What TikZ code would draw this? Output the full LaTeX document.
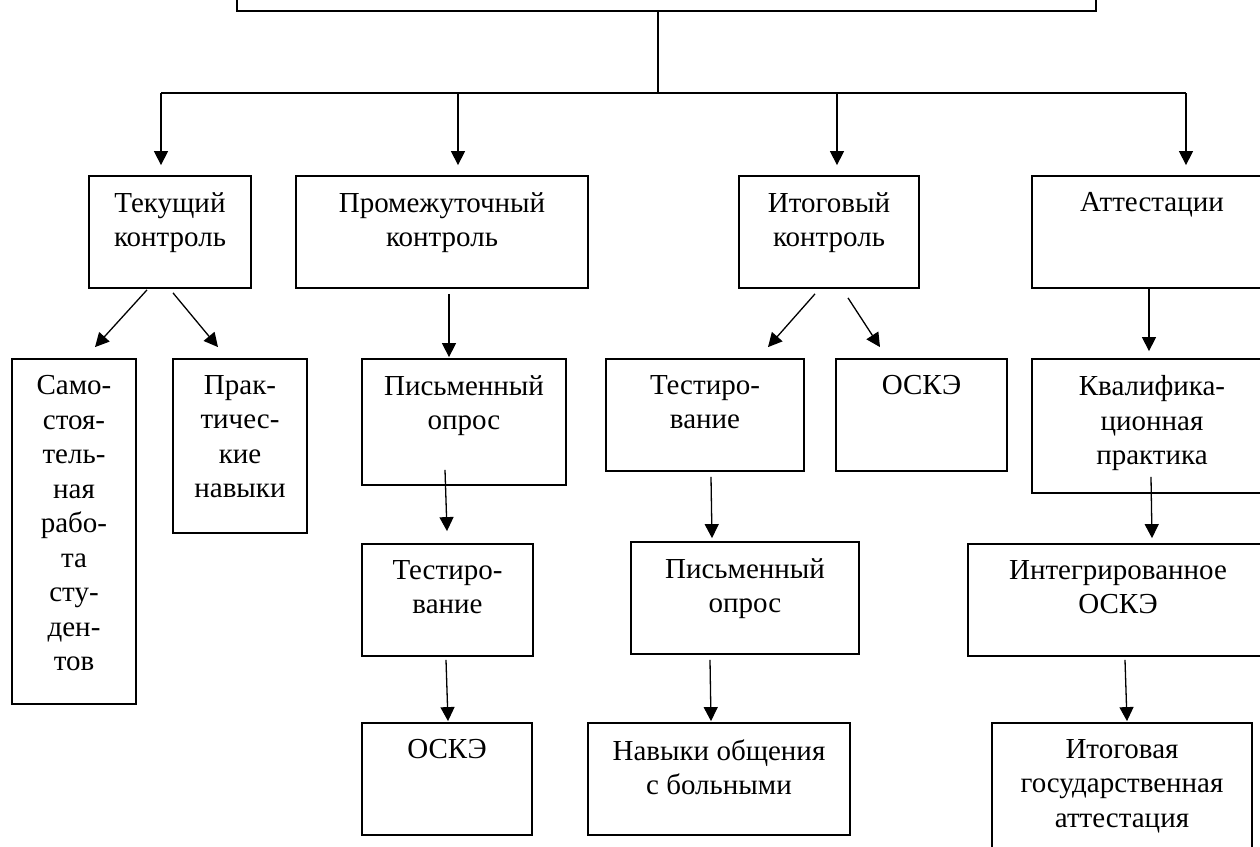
\documentclass[tikz,border=0pt]{standalone}
\usepackage{fontspec}
\setmainfont{Liberation Serif}
\usetikzlibrary{calc,fit,arrows.meta}
\newcommand\boxnode[6]{%
  \node[box, fit={(#2,#3) (#4,#5)}] (#1) {};
  \node[txt] (#1-t) at ($(#1.north)+(0,17)$) {#6};}
\begin{document}
\begin{tikzpicture}[x=0.5pt,y=-0.5pt,
  box/.style={draw, line width=0.9pt, inner sep=0pt},
  txt/.style={anchor=north, align=center, inner sep=0pt,
    font=\fontsize{14.5pt}{17.25pt}\selectfont},
  conn/.style={line width=0.65pt},
  busline/.style={line width=1pt},
  arr/.style={line width=0.65pt, -{Triangle[length=7pt,width=7pt]}}]
\clip (0,0) rectangle (1260,847);
% root
\node[box, fit={(237,-60) (1096,11)}] (root) {};
% level 1
\boxnode{tek}{89}{176}{251}{288}{Текущий\\контроль}
\boxnode{prom}{296}{176}{588}{288}{Промежуточный\\контроль}
\boxnode{itog}{739}{176}{919}{288}{Итоговый\\контроль}
\boxnode{att}{1032}{176}{1272}{288}{Аттестации}
% level 2
\boxnode{sam}{12}{359}{136}{704}{Само-\\стоя-\\тель-\\ная\\рабо-\\та\\сту-\\ден-\\тов}
\boxnode{prak}{173}{359}{307}{533}{Прак-\\тичес-\\кие\\навыки}
\boxnode{pwa}{362}{359}{566}{485}{Письменный\\опрос}
\boxnode{tsb}{606}{359}{804}{471}{Тестиро-\\вание}
\boxnode{oskb}{836}{359}{1007}{471}{ОСКЭ}
\boxnode{kval}{1032}{359}{1272}{493}{Квалифика-\\ционная\\практика}
% level 3
\boxnode{tsa}{362}{544}{533}{656}{Тестиро-\\вание}
\boxnode{pwb}{631}{542}{859}{654}{Письменный\\опрос}
\boxnode{integ}{968}{544}{1268}{656}{Интегрированное\\ОСКЭ}
% level 4
\boxnode{oska}{362}{723}{532}{835}{ОСКЭ}
\boxnode{nav}{588}{723}{850}{835}{Навыки общения\\с больными}
\boxnode{itg}{992}{723}{1252}{880}{Итоговая\\государственная\\аттестация}
% bus
\coordinate (bus) at (658,93);
\draw[conn] ($(root.south)+(-8.5,0)$) -- (bus);
\coordinate (d1) at ($(tek.north)+(-9,-10)$);
\coordinate (d2) at ($(prom.north)+(16,-10)$);
\coordinate (d3) at ($(itog.north)+(8,-10)$);
\coordinate (d4) at ($(att.north)+(34,-10)$);
\draw[busline] (d1 |- bus) -- (d4 |- bus);
\draw[arr] (d1 |- bus) -- (d1);
\draw[arr] (d2 |- bus) -- (d2);
\draw[arr] (d3 |- bus) -- (d3);
\draw[arr] (d4 |- bus) -- (d4);
% level 1 -> 2
\draw[arr] ($(tek.south)+(-23,1)$) -- ($(sam.north)+(21,-11)$);
\draw[arr] ($(tek.south)+(3,4)$) -- ($(prak.north)+(-22,-11)$);
\draw[arr] ($(prom.south)+(7,5)$) -- ($(pwa.north)+(-15,-1)$);
\draw[arr] ($(itog.south)+(-14,5)$) -- ($(tsb.north)+(63,-11)$);
\draw[arr] ($(itog.south)+(19,9)$) -- ($(oskb.north)+(-41.5,-11)$);
\draw[arr] ($(att.south)+(-3,0)$) -- ($(kval.north)+(-3,-7)$);
% level 2 -> 3
\draw[arr] ($(pwa.south)+(-19,-16)$) -- ($(tsa.north)+(-0.5,-12)$);
\draw[arr] ($(tsb.south)+(6,5)$) -- ($(pwb.north)+(-33,-3)$);
\draw[arr] ($(kval.south)+(-1,-17)$) -- ($(integ.north)+(34,-5)$);
% level 3 -> 4
\draw[arr] ($(tsa.south)+(-1.5,3)$) -- ($(oska.north)+(1,-1)$);
\draw[arr] ($(pwb.south)+(-35,5)$) -- ($(nav.north)+(-8,-1)$);
\draw[arr] ($(integ.south)+(7,3)$) -- ($(itg.north)+(5,-1)$);
\end{tikzpicture}
\end{document}
